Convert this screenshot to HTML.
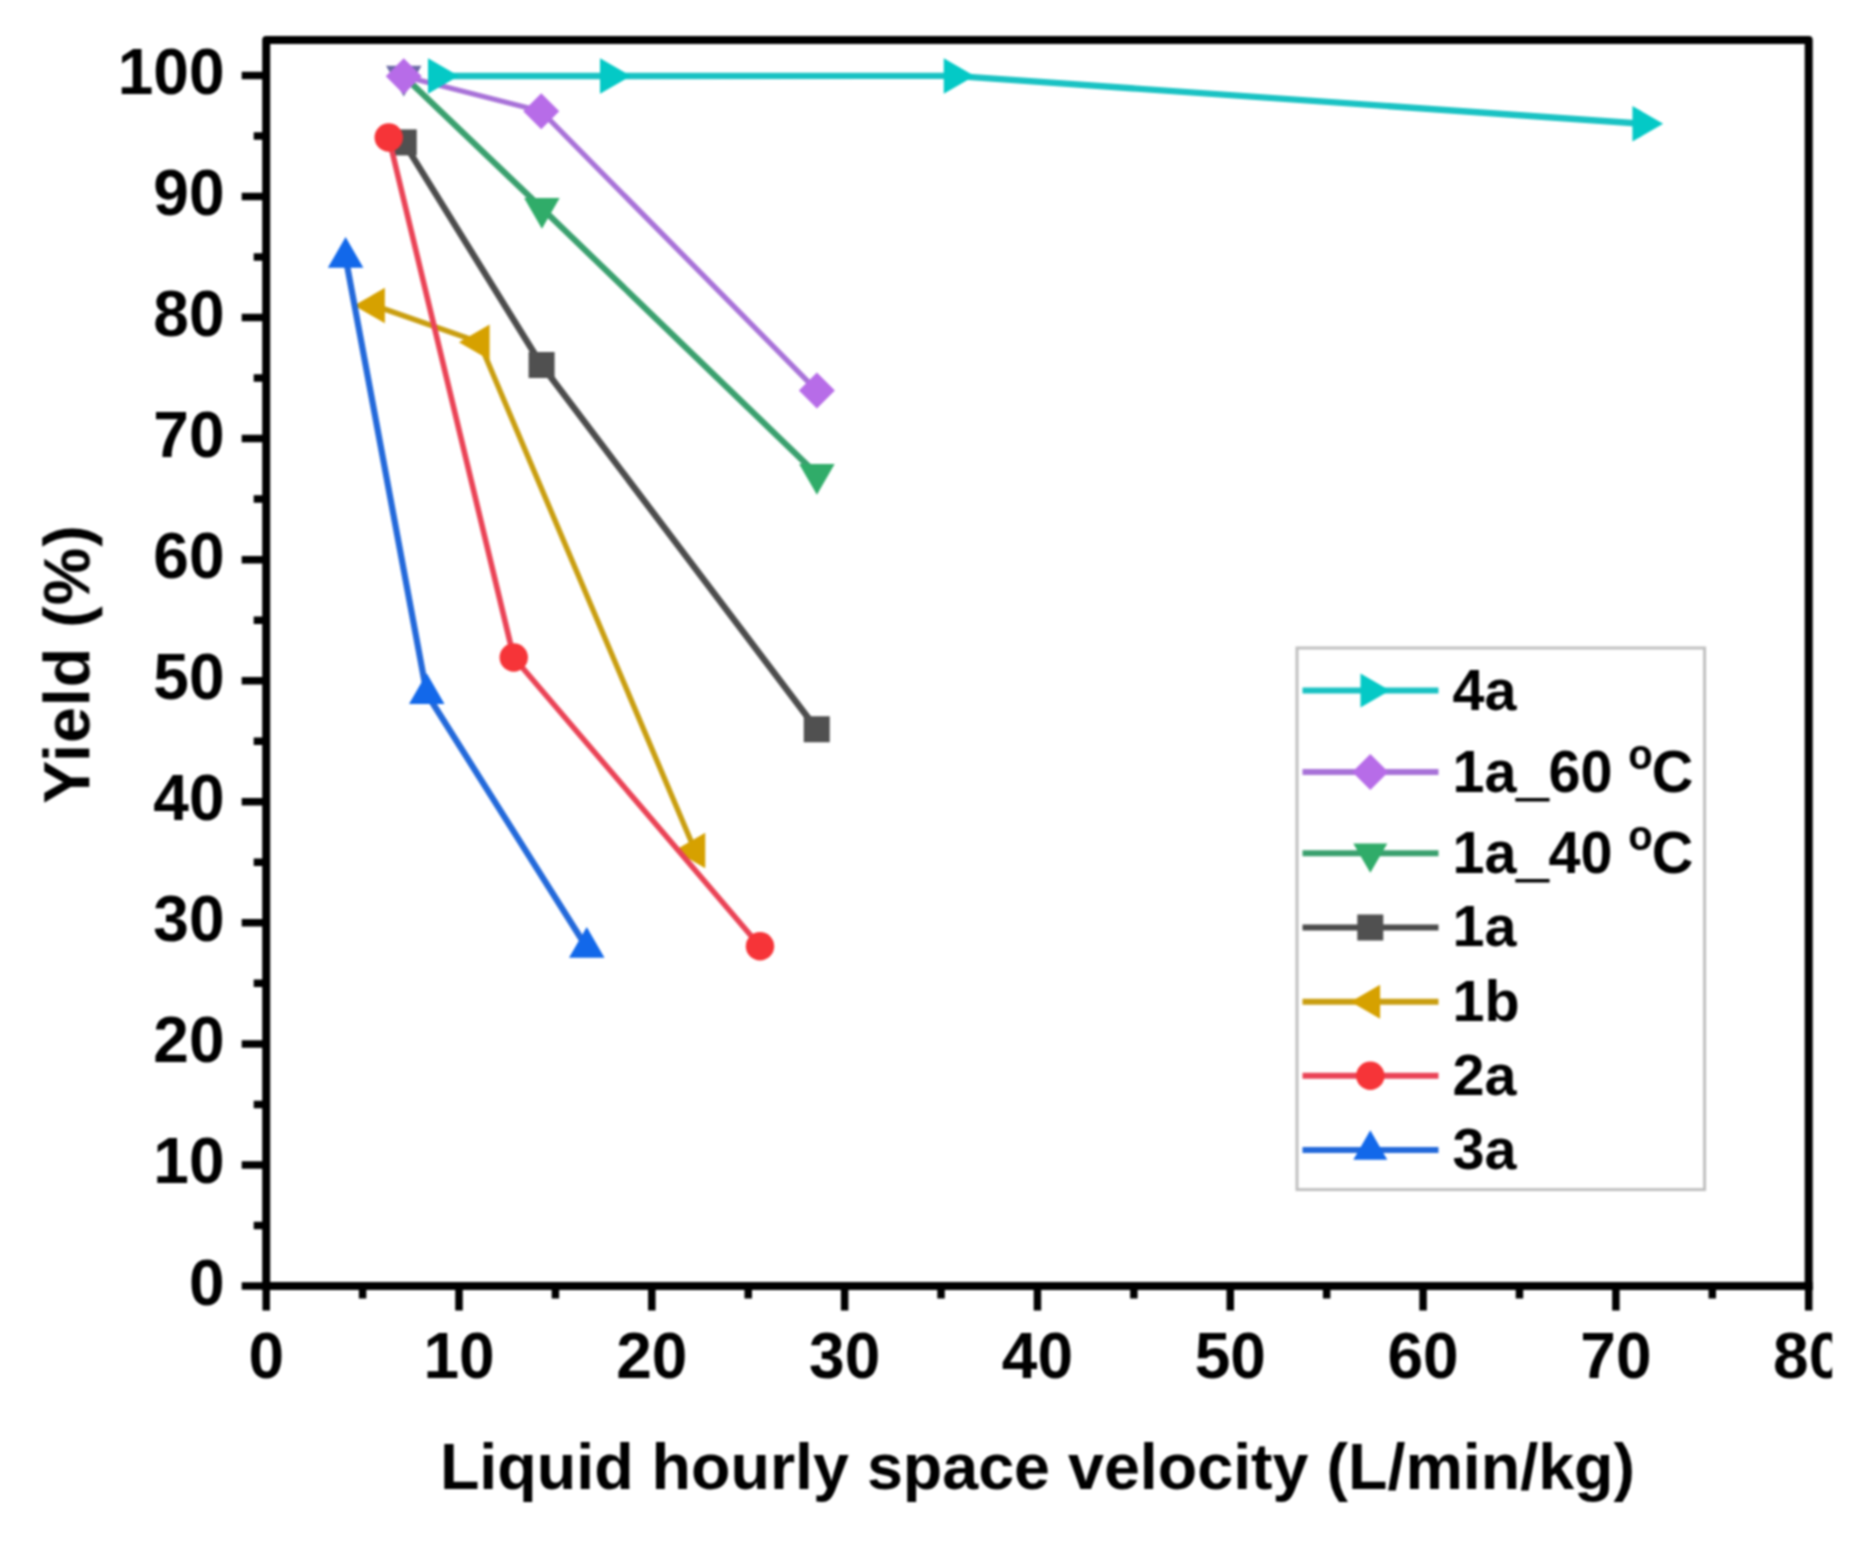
<!DOCTYPE html>
<html lang="en"><head><meta charset="utf-8"><title>Yield vs liquid hourly space velocity</title>
<style>html,body{margin:0;padding:0;background:#fff}body{width:1876px;height:1544px;overflow:hidden}svg{display:block}text{font-family:"Liberation Sans",sans-serif;font-weight:700;fill:#000}</style></head><body>
<svg role="img" aria-label="Yield (%) versus liquid hourly space velocity (L/min/kg)" width="1876" height="1544" viewBox="0 0 1876 1544">
<defs><clipPath id="page"><rect x="0" y="0" width="1832" height="1544"/></clipPath><filter id="soft" x="-5%" y="-5%" width="110%" height="110%" color-interpolation-filters="sRGB"><feGaussianBlur stdDeviation="1.15"/></filter></defs>
<rect width="1876" height="1544" fill="#fff"/>
<g filter="url(#soft)">
<g id="data">
<polyline points="403.75,142.40 541.60,365.00 816.75,729.25" fill="none" stroke="#4c4c4c" stroke-width="6.4" stroke-linejoin="round"/>
<rect x="390.75" y="129.40" width="26.0" height="26.0" fill="#505050"/>
<rect x="528.60" y="352.00" width="26.0" height="26.0" fill="#505050"/>
<rect x="803.75" y="716.25" width="26.0" height="26.0" fill="#505050"/>
<polyline points="374.60,305.60 479.40,342.20 695.00,850.50" fill="none" stroke="#C99E10" stroke-width="5.4" stroke-linejoin="round"/>
<polygon points="354.10,305.60 384.85,287.85 384.85,323.35" fill="#D6A100"/>
<polygon points="458.90,342.20 489.65,324.45 489.65,359.95" fill="#D6A100"/>
<polygon points="674.50,850.50 705.25,832.75 705.25,868.25" fill="#D6A100"/>
<polyline points="388.75,137.50 513.75,657.50 760.00,946.25" fill="none" stroke="#EA4356" stroke-width="5.6" stroke-linejoin="round"/>
<circle cx="388.75" cy="137.50" r="14.2" fill="#F63438"/>
<circle cx="513.75" cy="657.50" r="14.2" fill="#F63438"/>
<circle cx="760.00" cy="946.25" r="14.2" fill="#F63438"/>
<polyline points="345.60,257.50 426.75,693.75 586.75,947.50" fill="none" stroke="#2369DA" stroke-width="6.2" stroke-linejoin="round"/>
<polygon points="345.60,237.00 363.35,267.75 327.85,267.75" fill="#1268EA"/>
<polygon points="426.75,673.25 444.50,704.00 409.00,704.00" fill="#1268EA"/>
<polygon points="586.75,927.00 604.50,957.75 569.00,957.75" fill="#1268EA"/>
<polyline points="403.75,76.00 541.90,208.30 816.90,474.20" fill="none" stroke="#3AA06E" stroke-width="6.1" stroke-linejoin="round"/>
<polygon points="403.75,96.50 421.50,65.75 386.00,65.75" fill="#6b6aa5"/>
<polygon points="541.90,228.80 559.65,198.05 524.15,198.05" fill="#30AC69"/>
<polygon points="816.90,494.70 834.65,463.95 799.15,463.95" fill="#30AC69"/>
<polyline points="403.75,76.25 541.25,111.25 816.90,390.60" fill="none" stroke="#A872D8" stroke-width="5.3" stroke-linejoin="round"/>
<polygon points="403.75,58.25 421.75,76.25 403.75,94.25 385.75,76.25" fill="#B76CE8"/>
<polygon points="541.25,93.25 559.25,111.25 541.25,129.25 523.25,111.25" fill="#B76CE8"/>
<polygon points="816.90,372.60 834.90,390.60 816.90,408.60 798.90,390.60" fill="#B76CE8"/>
<polyline points="438.25,76.00 610.25,76.00 954.00,75.90 1642.70,123.75" fill="none" stroke="#19C2C3" stroke-width="6.3" stroke-linejoin="round"/>
<polygon points="458.75,76.00 428.00,58.25 428.00,93.75" fill="#04C9C6"/>
<polygon points="630.75,76.00 600.00,58.25 600.00,93.75" fill="#04C9C6"/>
<polygon points="974.50,75.90 943.75,58.15 943.75,93.65" fill="#04C9C6"/>
<polygon points="1663.20,123.75 1632.45,106.00 1632.45,141.50" fill="#04C9C6"/>
</g>
<g id="axes" stroke="#000" stroke-width="8.0" fill="none" stroke-linecap="butt">
<path d="M266.20,1290.00 V39.90 H1808.70 V1290.00" stroke-linejoin="round"/>
<path d="M262.20,1286.00 H1812.70"/>
<path d="M266.20,1286.00 h-24.5 M266.20,1225.47 h-12.5 M266.20,1164.94 h-24.5 M266.20,1104.41 h-12.5 M266.20,1043.88 h-24.5 M266.20,983.35 h-12.5 M266.20,922.82 h-24.5 M266.20,862.29 h-12.5 M266.20,801.76 h-24.5 M266.20,741.23 h-12.5 M266.20,680.70 h-24.5 M266.20,620.17 h-12.5 M266.20,559.64 h-24.5 M266.20,499.11 h-12.5 M266.20,438.58 h-24.5 M266.20,378.05 h-12.5 M266.20,317.52 h-24.5 M266.20,256.99 h-12.5 M266.20,196.46 h-24.5 M266.20,135.93 h-12.5 M266.20,75.40 h-24.5 M266.20,1286.00 v24.5 M362.61,1286.00 v12.5 M459.01,1286.00 v24.5 M555.42,1286.00 v12.5 M651.83,1286.00 v24.5 M748.23,1286.00 v12.5 M844.64,1286.00 v24.5 M941.04,1286.00 v12.5 M1037.45,1286.00 v24.5 M1133.86,1286.00 v12.5 M1230.26,1286.00 v24.5 M1326.67,1286.00 v12.5 M1423.08,1286.00 v24.5 M1519.48,1286.00 v12.5 M1615.89,1286.00 v24.5 M1712.29,1286.00 v12.5 M1808.70,1286.00 v24.5" stroke-width="7.5"/>
</g>
<g id="ylabels" font-size="64" text-anchor="end">
<text x="224.5" y="1304.50">0</text>
<text x="224.5" y="1183.44">10</text>
<text x="224.5" y="1062.38">20</text>
<text x="224.5" y="941.32">30</text>
<text x="224.5" y="820.26">40</text>
<text x="224.5" y="699.20">50</text>
<text x="224.5" y="578.14">60</text>
<text x="224.5" y="457.08">70</text>
<text x="224.5" y="336.02">80</text>
<text x="224.5" y="214.96">90</text>
<text x="224.5" y="93.90">100</text>
</g>
<g id="xlabels" font-size="64" text-anchor="middle" clip-path="url(#page)">
<text x="266.20" y="1378">0</text>
<text x="459.01" y="1378">10</text>
<text x="651.83" y="1378">20</text>
<text x="844.64" y="1378">30</text>
<text x="1037.45" y="1378">40</text>
<text x="1230.26" y="1378">50</text>
<text x="1423.08" y="1378">60</text>
<text x="1615.89" y="1378">70</text>
<text x="1808.70" y="1378">80</text>
</g>
<text id="xtitle" x="1037.5" y="1488.5" font-size="64.6" text-anchor="middle">Liquid hourly space velocity (L/min/kg)</text>
<text id="ytitle" transform="translate(89.3,664) rotate(-90)" font-size="64.6" text-anchor="middle" letter-spacing="1">Yield (%)</text>
<g id="legend"><rect x="1297.0" y="648.0" width="407.60" height="541.60" fill="#fff" stroke="#c0c0c0" stroke-width="3"/>
<line x1="1302.5" y1="690.6" x2="1438.5" y2="690.6" stroke="#19C2C3" stroke-width="6.0"/>
<polygon points="1389.93,690.60 1360.49,673.60 1360.49,707.60" fill="#04C9C6"/>
<text x="1452.5" y="709.5" font-size="57.5">4a</text>
<line x1="1302.5" y1="771.9" x2="1438.5" y2="771.9" stroke="#A872D8" stroke-width="6.0"/>
<polygon points="1370.30,753.90 1388.30,771.90 1370.30,789.90 1352.30,771.90" fill="#B76CE8"/>
<text transform="translate(1452.5,791.5) scale(1,1.04)" font-size="57.5" xml:space="preserve">1a<tspan dy="2.2" stroke="#000" stroke-width="1.2">_</tspan><tspan dy="-2.2">60 </tspan><tspan font-size="40" dy="-21.5">o</tspan><tspan dy="21.5" dx="-1">C</tspan></text>
<line x1="1302.5" y1="853.2" x2="1438.5" y2="853.2" stroke="#3AA06E" stroke-width="6.0"/>
<polygon points="1370.30,872.83 1387.30,843.39 1353.30,843.39" fill="#30AC69"/>
<text transform="translate(1452.5,872.8) scale(1,1.04)" font-size="57.5" xml:space="preserve">1a<tspan dy="2.2" stroke="#000" stroke-width="1.2">_</tspan><tspan dy="-2.2">40 </tspan><tspan font-size="40" dy="-21.5">o</tspan><tspan dy="21.5" dx="-1">C</tspan></text>
<line x1="1302.5" y1="927.5" x2="1438.5" y2="927.5" stroke="#4c4c4c" stroke-width="6.0"/>
<rect x="1357.30" y="914.50" width="26.0" height="26.0" fill="#505050"/>
<text x="1452.5" y="946.3" font-size="57.5">1a</text>
<line x1="1302.5" y1="1001.7" x2="1438.5" y2="1001.7" stroke="#C99E10" stroke-width="6.0"/>
<polygon points="1350.67,1001.70 1380.11,984.70 1380.11,1018.70" fill="#D6A100"/>
<text x="1452.5" y="1021.0" font-size="57.5">1b</text>
<line x1="1302.5" y1="1075.8" x2="1438.5" y2="1075.8" stroke="#EA4356" stroke-width="6.0"/>
<circle cx="1370.30" cy="1075.80" r="14.2" fill="#F63438"/>
<text x="1452.5" y="1094.6" font-size="57.5">2a</text>
<line x1="1302.5" y1="1150.0" x2="1438.5" y2="1150.0" stroke="#2369DA" stroke-width="6.0"/>
<polygon points="1370.30,1130.37 1387.30,1159.81 1353.30,1159.81" fill="#1268EA"/>
<text x="1452.5" y="1168.8" font-size="57.5">3a</text>
</g>
</g>
</svg></body></html>
